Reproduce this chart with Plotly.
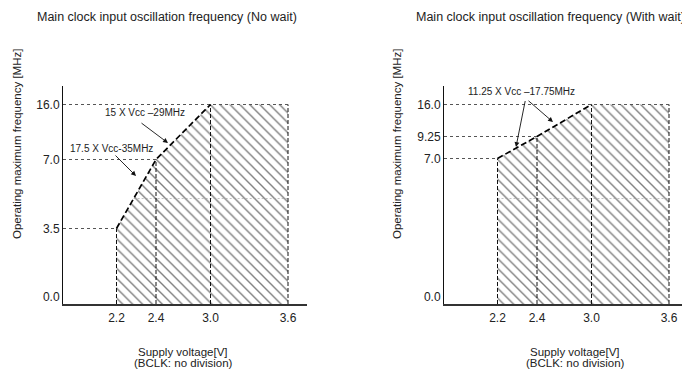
import numpy as np
import plotly.graph_objects as go

# supply voltage breakpoints [V]
volt_ticks = [2.2, 2.4, 3.0, 3.6]
volt_labels = ["2.2", "2.4", "3.0", "3.6"]

# No wait: upper edge of the operating area
nowait_volt = [2.2, 2.4, 3.0, 3.6]
nowait_freq = [3.5, 7.0, 16.0, 16.0]
nowait_ticks = [0.0, 3.5, 7.0, 16.0]
nowait_labels = ["0.0", "3.5", "7.0", "16.0"]

# With wait
wait_volt = [2.2, 2.4, 3.0, 3.6]
wait_freq = [7.0, 9.25, 16.0, 16.0]
wait_ticks = [0.0, 7.0, 9.25, 16.0]
wait_labels = ["0.0", "7.0", "9.25", "16.0"]

# page body has an 8px margin, so the figure is a bit smaller than the window
OFF = 8
W, H = 690 - OFF, 369 - OFF
FONT = "Liberation Sans, Arial, sans-serif"
TXT = "#222"

# the drawing is a schematic: axes are not linear, so each one gets a
# piecewise scale (value -> axis units)
VOLT_SCALE = ([2.0, 2.2, 2.4, 3.0, 3.6], [0, 53.5, 93, 147.5, 225])
FREQ_SCALE = {
    "nowait": ([0, 3.5, 7.0, 16.0], [0, 75.5, 144.5, 199.5]),
    "wait": ([0, 7.0, 9.25, 16.0], [0, 145.5, 167.5, 199.5]),
}

# plot boxes in window pixels
BOX = {"nowait": (63, 307), "wait": (444, 690)}
Y_BOTTOM, Y_TOP = 304, 86


def xs(v):
    return np.interp(v, *VOLT_SCALE)


def ys(f, panel):
    return np.interp(f, *FREQ_SCALE[panel])


def px(x):
    return (x - OFF) / W


def py(y):
    return 1 - (y - OFF) / H


fig = go.Figure()

panels = [
    ("nowait", "x", "y", nowait_volt, nowait_freq, nowait_ticks, nowait_labels),
    ("wait", "x2", "y2", wait_volt, wait_freq, wait_ticks, wait_labels),
]

for name, xa, ya, volt, freq, ticks, labels in panels:
    bx = xs(volt)
    by = ys(freq, name)

    # hatched operating area
    fig.add_trace(go.Scatter(
        x=[bx[0], *bx, bx[-1], bx[0]],
        y=[0, *by, 0, 0],
        mode="lines", fill="toself",
        fillcolor="white",
        fillpattern=dict(shape="\\", size=7, solidity=0.2, fgcolor="#000", bgcolor="white"),
        line=dict(width=0),
        xaxis=xa, yaxis=ya, hoverinfo="skip",
    ))

    # faint grid line left in the drawing
    gv = 105.5
    gx0 = np.interp(gv, by[:3], bx[:3])
    fig.add_trace(go.Scatter(
        x=[gx0, bx[-1]], y=[gv, gv], mode="lines",
        line=dict(color="#999", width=0.6, dash="2px,2px"),
        xaxis=xa, yaxis=ya, hoverinfo="skip",
    ))

    # vertical dashed lines at each voltage
    vx, vy = [], []
    for u, v in zip(bx, by):
        vx += [u, u, None]
        vy += [0, v, None]
    fig.add_trace(go.Scatter(
        x=vx, y=vy, mode="lines",
        line=dict(color="#111", width=1, dash="4px,2px"),
        xaxis=xa, yaxis=ya, hoverinfo="skip",
    ))

    # horizontal dashed lines from the axis to each level
    reach = {}
    for u, v in zip(bx, by):
        reach[v] = max(reach.get(v, 0), u)
    hx, hy = [], []
    for v, u in reach.items():
        hx += [0, u, None]
        hy += [v, v, None]
    fig.add_trace(go.Scatter(
        x=hx, y=hy, mode="lines",
        line=dict(color="#555", width=1, dash="3px,3px"),
        xaxis=xa, yaxis=ya, hoverinfo="skip",
    ))

    # sloped boundary
    fig.add_trace(go.Scatter(
        x=bx[:3], y=by[:3], mode="lines",
        line=dict(color="#000", width=1.7, dash="6px,3px"),
        xaxis=xa, yaxis=ya, hoverinfo="skip",
    ))

    ytv = list(ys(ticks, name))
    ytv[0] += 7  # label sits just above the axis line
    left, right = BOX[name]
    suffix = "" if xa == "x" else "2"
    fig.layout["xaxis" + suffix] = dict(
        domain=[px(left), min(px(right), 1)], range=[0, right - left],
        showline=True, linecolor="#333", linewidth=1.5,
        showgrid=False, zeroline=False, ticks="",
        tickvals=list(xs(volt_ticks)), ticktext=volt_labels,
        tickfont=dict(family=FONT, size=12, color=TXT),
        ticklabelstandoff=2, fixedrange=True,
        anchor=ya,
    )
    fig.layout["yaxis" + suffix] = dict(
        domain=[py(Y_BOTTOM), py(Y_TOP)], range=[0, Y_BOTTOM - Y_TOP],
        showline=True, linecolor="#111", linewidth=1,
        showgrid=False, zeroline=False, ticks="",
        tickvals=ytv, ticktext=labels,
        tickfont=dict(family=FONT, size=12, color=TXT),
        fixedrange=True, anchor=xa,
    )

annotations = []


def text(x, y, s, size=12, angle=0):
    annotations.append(dict(
        x=px(x), y=py(y), xref="paper", yref="paper", text=s,
        showarrow=False, textangle=angle,
        font=dict(family=FONT, size=size, color=TXT),
        xanchor="center", yanchor="middle",
    ))


def arrow(panel, tail, tip):
    left = BOX[panel][0]
    sfx = "" if panel == "nowait" else "2"
    annotations.append(dict(
        x=tip[0] - left, y=Y_BOTTOM - tip[1],
        ax=tail[0] - left, ay=Y_BOTTOM - tail[1],
        xref="x" + sfx, yref="y" + sfx, axref="x" + sfx, ayref="y" + sfx,
        text="", showarrow=True, arrowhead=2, arrowsize=1.1,
        arrowwidth=0.9, arrowcolor="#111", standoff=0,
    ))


text(166.5, 17, "Main clock input oscillation frequency (No wait)", 12.5)
text(550, 17, "Main clock input oscillation frequency (With wait)", 12.5)
text(17, 144, "Operating maximum frequency [MHz]", 11.5, -90)
text(397, 144, "Operating maximum frequency [MHz]", 11.5, -90)
for cx in (183, 575):
    text(cx, 351.5, "Supply voltage[V]", 11.5)
    text(cx, 363, "(BCLK: no division)", 11.5)

text(145, 112.5, "15 X Vcc –29MHz", 10)
text(111.5, 148, "17.5 X Vcc-35MHz", 10)
text(521, 91, "11.25 X Vcc –17.75MHz", 10)

arrow("nowait", (140, 122), (168, 143))
arrow("nowait", (114, 154), (136, 176))
arrow("wait", (525.5, 99.5), (516, 147))
arrow("wait", (527, 99.5), (553, 122))

fig.update_layout(
    width=W, height=H,
    margin=dict(l=0, r=0, t=0, b=0),
    paper_bgcolor="white", plot_bgcolor="white",
    showlegend=False,
    annotations=annotations,
)

fig.write_html("out.html")
